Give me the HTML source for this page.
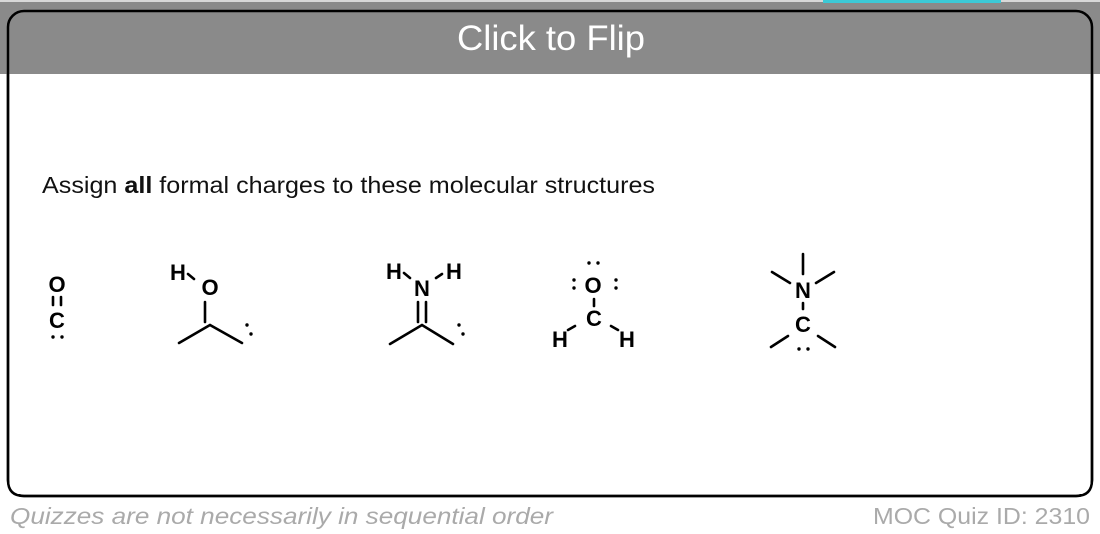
<!DOCTYPE html>
<html><head><style>
html,body{margin:0;padding:0;width:1100px;height:534px;overflow:hidden;background:#fff;font-family:"Liberation Sans",sans-serif}
</style></head><body>
<svg width="1100" height="534" viewBox="0 0 1100 534" xmlns="http://www.w3.org/2000/svg" style="position:absolute;left:0;top:0">
<rect x="0" y="0" width="1100" height="74" fill="#8a8a8a"/>
<rect x="0" y="0" width="1100" height="2" fill="#d8d8d8"/>
<rect x="823" y="0" width="178" height="3" fill="#3cc9d6"/>
<rect x="8" y="11" width="1084" height="485" rx="16" ry="16" fill="none" stroke="#000" stroke-width="2.5"/>
<rect x="9.5" y="74" width="1081" height="420" fill="#fff"/>
<path d="M8 74 V480 Q8 496 24 496 H1076 Q1092 496 1092 480 V74" fill="none" stroke="#000" stroke-width="2.5"/>
<text x="457" y="50" font-size="35" fill="#fff" textLength="188" lengthAdjust="spacingAndGlyphs">Click to Flip</text>
<text x="42" y="193" font-size="23" fill="#111" textLength="613" lengthAdjust="spacingAndGlyphs">Assign <tspan font-weight="bold">all</tspan> formal charges to these molecular structures</text>
<g font-weight="bold" font-size="22" fill="#000" text-anchor="middle" stroke="none">
<text x="57" y="292">O</text>
<text x="57" y="328">C</text>
<text x="178" y="280">H</text>
<text x="210" y="295">O</text>
<text x="394" y="279">H</text>
<text x="422" y="296">N</text>
<text x="454" y="279">H</text>
<text x="593" y="293">O</text>
<text x="594" y="326">C</text>
<text x="560" y="347">H</text>
<text x="627" y="347">H</text>
<text x="803" y="298">N</text>
<text x="803" y="332">C</text>
</g>
<g stroke="#000" stroke-width="2.6" fill="none" stroke-linecap="round">
<line x1="53" y1="297" x2="53" y2="305"/><line x1="61" y1="297" x2="61" y2="305"/>
<line x1="188" y1="274" x2="194" y2="279"/>
<line x1="205" y1="302" x2="205" y2="322"/>
<polyline points="179,343 210,325 242,343"/>
<line x1="404" y1="273" x2="410" y2="278"/><line x1="436" y1="278" x2="442" y2="274"/>
<line x1="418" y1="302" x2="418" y2="322"/><line x1="426" y1="302" x2="426" y2="322"/>
<polyline points="390,344 422,325 453,344"/>
<line x1="594" y1="299" x2="594" y2="306"/>
<line x1="568" y1="330" x2="575" y2="326"/><line x1="611" y1="326" x2="618" y2="330"/>
<line x1="803" y1="254" x2="803" y2="274"/>
<line x1="772" y1="272" x2="790" y2="283"/><line x1="834" y1="272" x2="816" y2="283"/>
<line x1="803" y1="303" x2="803" y2="309"/>
<line x1="771" y1="347" x2="788" y2="336"/><line x1="835" y1="347" x2="818" y2="336"/>
</g>
<g fill="#000">
<circle cx="53" cy="337" r="1.7"/><circle cx="62" cy="337" r="1.7"/>
<circle cx="247" cy="325" r="1.7"/><circle cx="251" cy="334" r="1.7"/>
<circle cx="459" cy="325" r="1.7"/><circle cx="463" cy="334" r="1.7"/>
<circle cx="589" cy="263" r="1.7"/><circle cx="598" cy="263" r="1.7"/>
<circle cx="574" cy="280" r="1.7"/><circle cx="574" cy="288" r="1.7"/>
<circle cx="616" cy="280" r="1.7"/><circle cx="616" cy="288" r="1.7"/>
<circle cx="799" cy="349" r="1.7"/><circle cx="808" cy="349" r="1.7"/>
</g>
<text x="10" y="524" font-size="23" font-style="italic" fill="#aaa" textLength="543" lengthAdjust="spacingAndGlyphs">Quizzes are not necessarily in sequential order</text>
<text x="873" y="524" font-size="23" fill="#aaa" textLength="217" lengthAdjust="spacingAndGlyphs">MOC Quiz ID: 2310</text>
</svg>
</body></html>
